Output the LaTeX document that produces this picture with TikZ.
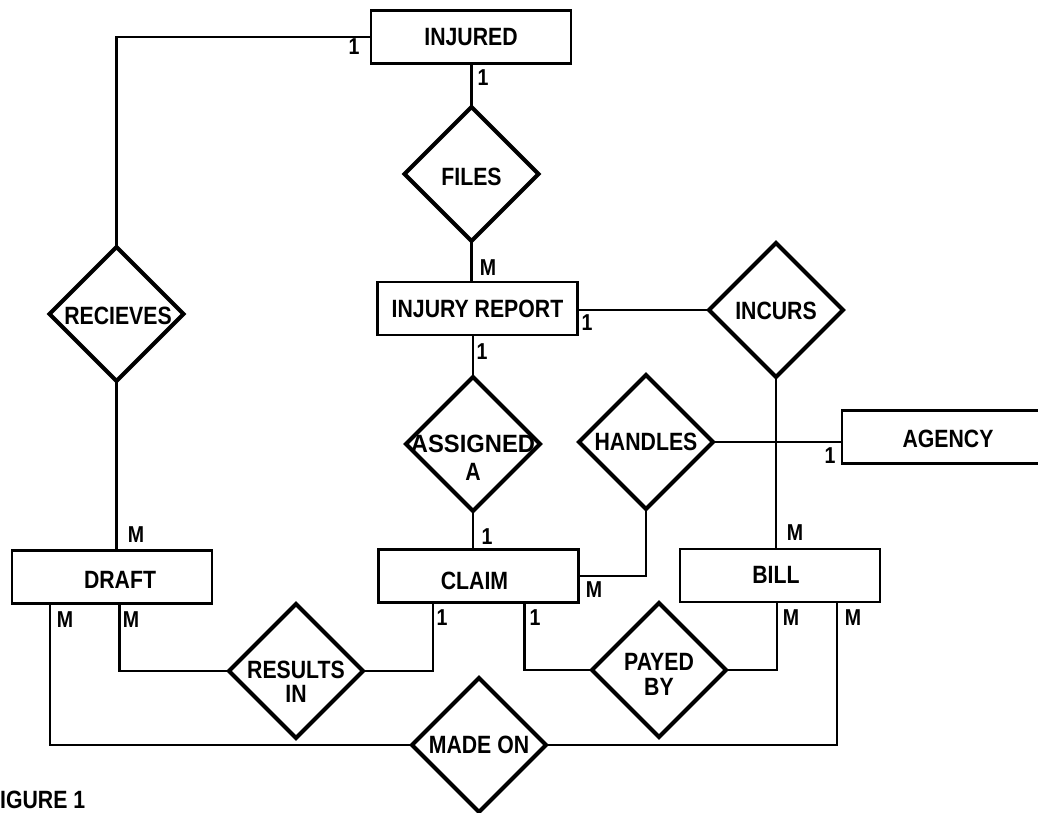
\documentclass[tikz,border=0pt]{standalone}
\usepackage{fontspec}
\setmainfont{Liberation Sans}[FakeStretch=0.85]
\usetikzlibrary{shapes.geometric}
\newcommand\entfont{\fontsize{25}{25}\selectfont\bfseries}
\newcommand\cardfont{\fontsize{23}{23}\selectfont\bfseries}
\begin{document}
\begin{tikzpicture}[x=1pt,y=-1pt,
  ent/.style={draw, line width=2.8pt, minimum width=200pt, minimum height=53pt, inner sep=0pt, outer sep=0pt, font=\entfont},
  rel/.style={draw, diamond, aspect=1, line width=4pt, minimum width=134pt, minimum height=134pt, inner sep=0pt, outer sep=0pt},
  rtext/.style={font=\entfont, align=center, inner sep=0pt},
  card/.style={font=\cardfont, inner sep=0pt},
  conn/.style={line width=2.6pt},
]
\useasboundingbox (0,0) rectangle (1038,813);
\clip (0,0) rectangle (1038,813);

% entities
\node[ent] (injured) at (471,37) {INJURED};
\node[ent] (report) at (477.5,308.5) {INJURY REPORT};
\node[ent, minimum width=208pt] (agency) at (946,437) {};
\node[rtext] (tagency) at (948,439) {AGENCY};
\node[ent] (draft) at (112,577) {};
\node[rtext] (tdraft) at (120,580) {DRAFT};
\node[ent] (claim) at (478.5,576) {};
\node[rtext] (tclaim) at (474.5,581) {CLAIM};
\node[ent] (bill) at (780,575.5) {};
\node[rtext] (tbill) at (776,575) {BILL};

% relationships
\node[rel] (files) at (471.5,174) {};
\node[rel] (recieves) at (116.5,314) {};
\node[rel] (incurs) at (776,310) {};
\node[rel] (assigned) at (473,444) {};
\node[rel] (handles) at (646,442) {};
\node[rel] (results) at (296,671) {};
\node[rel] (payed) at (659,670) {};
\node[rel] (madeon) at (479,745) {};

\node[rtext] (tfiles) at (471.5,177) {FILES};
\node[rtext] (trec) at (118,316) {RECIEVES};
\node[rtext] (tinc) at (776,311) {INCURS};
\node[rtext] (tass) at (473,457.5) {\addfontfeature{FakeStretch=0.95}ASSIGNED\\[3pt]A};
\node[rtext] (thand) at (646,442) {HANDLES};
\node[rtext] (tres) at (296,681.5) {RESULTS\\[-1pt]IN};
\node[rtext] (tpay) at (659,674) {PAYED\\[0pt]BY};
\node[rtext] (tmade) at (479,745) {MADE ON};
\node[rtext, anchor=west] (fig) at (0,800) {IGURE 1};

% connector end points on entity edges
\coordinate (dA) at ([xshift=38pt]draft.south west);
\coordinate (dB) at ([xshift=107.6pt]draft.south west);
\coordinate (cA) at ([xshift=54.5pt]claim.south west);
\coordinate (cB) at ([xshift=146pt]claim.south west);
\coordinate (bA) at ([xshift=97pt]bill.south west);
\coordinate (bB) at ([xshift=157pt]bill.south west);

% connectors
\draw[conn] (injured.west) -| (recieves.north);
\draw[conn] (recieves.south) -- (recieves.south |- draft.north);
\draw[conn] (files.north) -- (files.north |- injured.south);
\draw[conn] (files.south) -- (files.south |- report.north);
\draw[conn] (report.east |- incurs.west) -- (incurs.west);
\draw[conn] (assigned.north) -- (assigned.north |- report.south);
\draw[conn] (assigned.south) -- (assigned.south |- claim.north);
\draw[conn] (incurs.south) -- (incurs.south |- bill.north);
\draw[conn] (handles.east) -- (agency.west |- handles.east);
\draw[conn] (handles.south) |- (claim.east);
\draw[conn] (dB) |- (results.west);
\draw[conn] (dA) |- (madeon.west);
\draw[conn] (results.east) -| (cA);
\draw[conn] (cB) |- (payed.west);
\draw[conn] (payed.east) -| (bA);
\draw[conn] (madeon.east) -| (bB);

% cardinalities
\node[card] (k1) at (354,47) {1};
\node[card] (k2) at (483,78) {1};
\node[card] (k3) at (488,268) {M};
\node[card] (k4) at (587,323) {1};
\node[card] (k5) at (482,352) {1};
\node[card] (k6) at (487,537) {1};
\node[card] (k7) at (136,535) {M};
\node[card] (k8) at (65,620) {M};
\node[card] (k9) at (131,620) {M};
\node[card] (k10) at (442,618) {1};
\node[card] (k11) at (535,618) {1};
\node[card] (k12) at (594,590) {M};
\node[card] (k13) at (795,533) {M};
\node[card] (k14) at (791,618) {M};
\node[card] (k15) at (853,618) {M};
\node[card] (k16) at (830,456) {1};
\end{tikzpicture}
\end{document}
